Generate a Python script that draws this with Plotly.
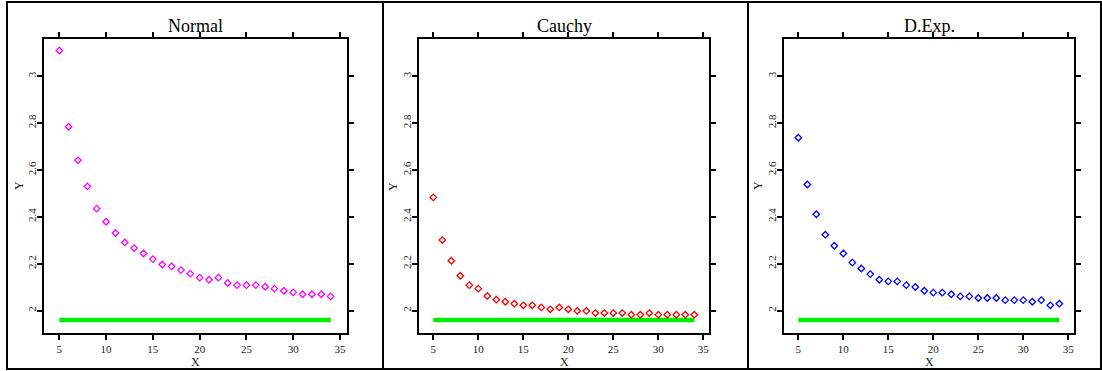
import plotly.graph_objects as go

W, H = 1102, 371

x_vals = list(range(5, 35))
normal_y = [3.109, 2.784, 2.641, 2.530, 2.435, 2.379, 2.331, 2.291, 2.267, 2.244,
            2.220, 2.197, 2.189, 2.173, 2.158, 2.141, 2.132, 2.141, 2.118, 2.109,
            2.109, 2.109, 2.102, 2.094, 2.085, 2.078, 2.070, 2.070, 2.070, 2.061]
cauchy_y = [2.483, 2.301, 2.213, 2.149, 2.109, 2.094, 2.063, 2.047, 2.038, 2.030,
            2.023, 2.023, 2.014, 2.006, 2.014, 2.006, 1.999, 1.999, 1.990, 1.990,
            1.990, 1.990, 1.983, 1.983, 1.990, 1.983, 1.983, 1.983, 1.983, 1.983]
dexp_y = [2.737, 2.538, 2.411, 2.324, 2.277, 2.244, 2.205, 2.180, 2.156, 2.132,
          2.125, 2.125, 2.109, 2.101, 2.085, 2.077, 2.077, 2.070, 2.061, 2.061,
          2.054, 2.054, 2.054, 2.045, 2.045, 2.045, 2.038, 2.045, 2.023, 2.030]
ref_level = 1.96
titles = ["Normal", "Cauchy", "D.Exp."]
colors = ["#ff00ff", "#ff0000", "#0000ff"]
series = [normal_y, cauchy_y, dexp_y]
x_ticks = [5, 10, 15, 20, 25, 30, 35]
y_ticks = [2, 2.2, 2.4, 2.6, 2.8, 3]
y_tick_text = ["2", "2.2", "2.4", "2.6", "2.8", "3"]

# layout geometry in pixels
plot_lr = [(44, 347), (419, 709.3), (784, 1074.3)]
x_ranges = [(3.365, 35.748), (3.41, 35.667), (3.41, 35.667)]
plot_top, plot_bot = 39, 333
y_range = (1.905, 3.158)
seps = [383, 748]
ylabel_x = [19, 393, 758]

FONT = "Liberation Serif, Times New Roman, serif"

fig = go.Figure()
for i in range(3):
    ax = "" if i == 0 else str(i + 1)
    fig.add_trace(go.Scatter(
        x=[x_vals[0], x_vals[-1]], y=[ref_level, ref_level], mode="lines",
        line=dict(color="#00ee00", width=4.5), xaxis="x" + ax, yaxis="y" + ax,
        showlegend=False, hoverinfo="skip"))
    fig.add_trace(go.Scatter(
        x=x_vals, y=series[i], mode="markers",
        marker=dict(symbol="diamond-open", size=5, color=colors[i],
                    line=dict(width=1.3, color=colors[i])),
        xaxis="x" + ax, yaxis="y" + ax, showlegend=False))

common_axis = dict(showline=True, linecolor="black", linewidth=2, mirror="ticks",
                   ticks="outside", ticklen=5, tickwidth=1.5, tickcolor="black",
                   showgrid=False, zeroline=False,
                   tickfont=dict(family=FONT, size=11, color="#222"))
layout = dict(width=W, height=H, margin=dict(l=0, r=0, t=0, b=0),
              paper_bgcolor="white", plot_bgcolor="white", showlegend=False)
annotations = []
for i in range(3):
    ax = "" if i == 0 else str(i + 1)
    l, r = plot_lr[i]
    layout["xaxis" + ax] = dict(common_axis, domain=[l / W, r / W], range=list(x_ranges[i]),
                                tickvals=x_ticks, anchor="y" + ax)
    layout["yaxis" + ax] = dict(common_axis, domain=[1 - plot_bot / H, 1 - plot_top / H],
                                range=list(y_range), tickvals=y_ticks, ticktext=y_tick_text,
                                tickangle=-90, ticklabelstandoff=-3, anchor="x" + ax)
    cx = (l + r) / 2
    annotations.append(dict(text=titles[i], x=cx / W, y=1 - 26 / H, xref="paper", yref="paper",
                            xanchor="center", yanchor="middle", showarrow=False,
                            font=dict(family=FONT, size=18, color="black")))
    annotations.append(dict(text="X", x=cx / W, y=1 - 362 / H, xref="paper", yref="paper",
                            xanchor="center", yanchor="middle", showarrow=False,
                            font=dict(family=FONT, size=12, color="#222")))
    annotations.append(dict(text="Y", x=ylabel_x[i] / W, y=1 - 186 / H, xref="paper", yref="paper",
                            xanchor="center", yanchor="middle", showarrow=False, textangle=-90,
                            font=dict(family=FONT, size=12, color="#222")))
layout["annotations"] = annotations

shapes = [dict(type="rect", xref="paper", yref="paper", x0=7 / W, x1=1101 / W,
               y0=1 - 369 / H, y1=1 - 2 / H, line=dict(color="black", width=2))]
for s in seps:
    shapes.append(dict(type="line", xref="paper", yref="paper", x0=s / W, x1=s / W,
                       y0=1 - 369 / H, y1=1 - 2 / H, line=dict(color="black", width=2)))
layout["shapes"] = shapes

fig.update_layout(**layout)
fig.write_html("out.html")
